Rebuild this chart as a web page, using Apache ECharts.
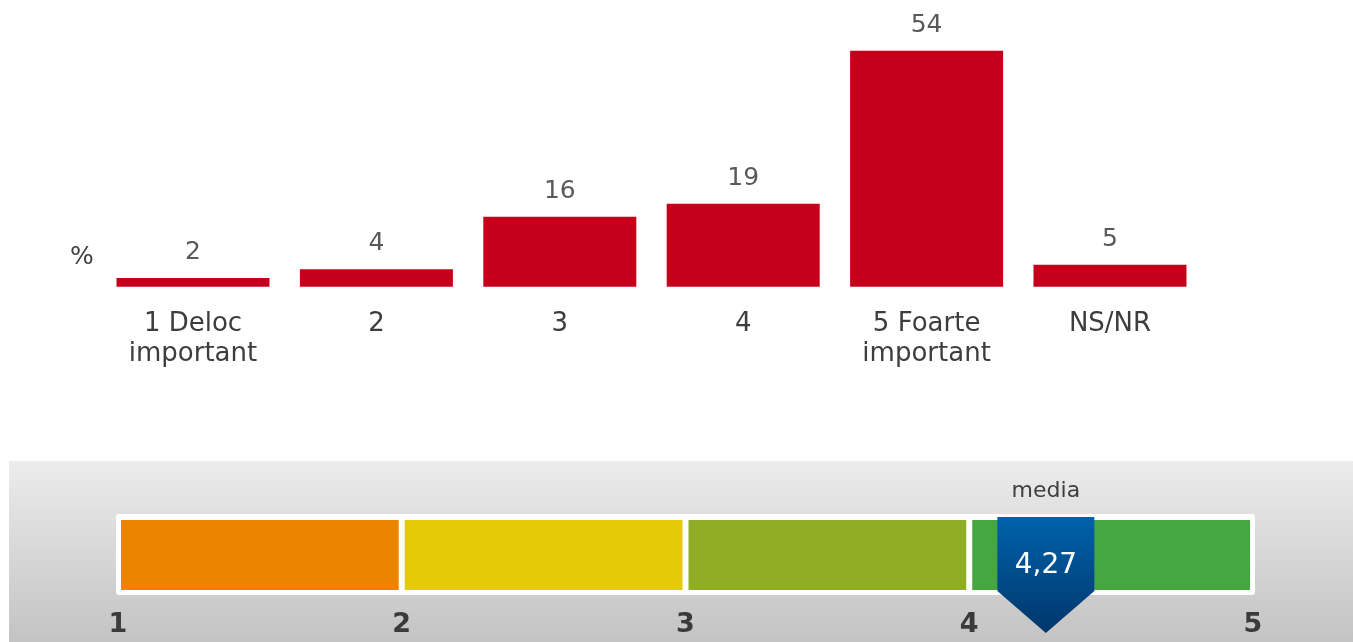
<!DOCTYPE html>
<html><head><meta charset="utf-8">
<script src="https://cdn.jsdelivr.net/npm/echarts@6/dist/echarts.min.js"></script>
<style>html,body{margin:0;padding:0;background:#fff}#c{width:1353px;height:642px}</style>
</head><body><div id="c"></div>
<script>
// ---- data ----
const categories = ['1 Deloc\nimportant', '2', '3', '4', '5 Foarte\nimportant', 'NS/NR'];
const values = [2, 4, 16, 19, 54, 5];
const unitLabel = '%';
const scaleTicks = [1, 2, 3, 4, 5];
const scaleBandStarts = [1, 2, 3, 4];
const scaleBandEnds = [2, 3, 4, 5];
const meanValue = 4.27;
const meanLabel = 'media';

// ---- styles ----
const FONT = 'DejaVu Sans';
const bandColors = ['#ee8300', '#e5cb06', '#8fae26', '#46a642'];
const scaleMin = scaleTicks[0], scaleMax = scaleTicks[scaleTicks.length - 1];

const chart = echarts.init(document.getElementById('c'), null, {renderer: 'canvas'});

const option = {
  animation: false,
  backgroundColor: '#ffffff',
  graphic: [
    {type: 'rect', z: 0, shape: {x: 9, y: 461, width: 1344, height: 181},
     style: {fill: new echarts.graphic.LinearGradient(0, 0, 0, 1, [
       {offset: 0, color: '#ececec'}, {offset: 1, color: '#c3c3c3'}])}},
    {type: 'text', z: 5, x: 82, y: 257,
     style: {text: unitLabel, font: '25px "' + FONT + '"', fill: '#404040', align: 'center', verticalAlign: 'middle'}}
  ],
  grid: [
    {left: 101.3, right: 151.3, top: 24.4, bottom: 355.3},
    {left: 118, right: 100, top: 520, bottom: 52}
  ],
  xAxis: [
    {type: 'category', gridIndex: 0, data: categories,
     axisLine: {show: false}, axisTick: {show: false}, splitLine: {show: false},
     axisLabel: {interval: 0, fontFamily: FONT, fontSize: 26, lineHeight: 30, color: '#3d3d3d', margin: 23}},
    {type: 'value', gridIndex: 1, min: scaleMin, max: scaleMax, interval: 1,
     axisLine: {show: false}, axisTick: {show: false}, splitLine: {show: false},
     axisLabel: {fontFamily: FONT, fontSize: 27, fontWeight: 'bold', color: '#3a3a3a', margin: 21,
       formatter: v => scaleTicks.indexOf(v) >= 0 ? String(v) : ''}}
  ],
  yAxis: [
    {type: 'value', gridIndex: 0, min: 0, max: 60, show: false},
    {type: 'value', gridIndex: 1, min: 0, max: 1, show: false}
  ],
  series: [
    {type: 'bar', xAxisIndex: 0, yAxisIndex: 0, data: values, barWidth: 153,
     itemStyle: {color: '#c5001a'},
     label: {show: true, position: 'top', distance: 13, fontFamily: FONT, fontSize: 25, color: '#595959'}},
    // white frame behind the scale
    {type: 'custom', xAxisIndex: 1, yAxisIndex: 1, z: 3,
     data: [[scaleMin, scaleMax]],
     renderItem: function (params, api) {
       const a = api.coord([api.value(0), 1]);
       const b = api.coord([api.value(1), 0]);
       return {type: 'rect', shape: {x: a[0] - 2, y: a[1] - 6, width: b[0] - a[0] + 4, height: b[1] - a[1] + 11, r: 3},
               style: {fill: '#ffffff'}};
     }},
    // coloured bands
    {type: 'custom', xAxisIndex: 1, yAxisIndex: 1, z: 4,
     data: scaleBandStarts.map((s, i) => [s, scaleBandEnds[i], i]),
     renderItem: function (params, api) {
       const a = api.coord([api.value(0), 1]);
       const b = api.coord([api.value(1), 0]);
       return {type: 'rect', shape: {x: a[0] + 3, y: a[1], width: b[0] - a[0] - 6, height: b[1] - a[1]},
               style: {fill: bandColors[api.value(2)]}};
     }},
    // mean marker
    {type: 'custom', xAxisIndex: 1, yAxisIndex: 1, z: 6,
     data: [[meanValue]],
     renderItem: function (params, api) {
       const v = api.value(0);
       const t = api.coord([v, 1]);
       const b = api.coord([v, 0]);
       const x = t[0], hw = 48.5;
       const top = t[1] - 3, rb = b[1] + 1, tip = b[1] + 43;
       return {type: 'group', children: [
         {type: 'polygon', shape: {points: [[x - hw, top], [x + hw, top], [x + hw, rb], [x, tip], [x - hw, rb]]},
          style: {fill: new echarts.graphic.LinearGradient(0, 0, 0, 1, [
            {offset: 0, color: '#0062ab'}, {offset: 1, color: '#00366b'}])}},
         {type: 'text', x: x, y: (t[1] + b[1]) / 2 + 11,
          style: {text: v.toFixed(2).replace('.', ','), font: '28px "' + FONT + '"', fill: '#ffffff', align: 'center', verticalAlign: 'middle'}},
         {type: 'text', x: x, y: t[1] - 29,
          style: {text: meanLabel, font: '22px "' + FONT + '"', fill: '#404040', align: 'center', verticalAlign: 'middle'}}
       ]};
     }}
  ]
};
chart.setOption(option);
</script>
</body></html>
